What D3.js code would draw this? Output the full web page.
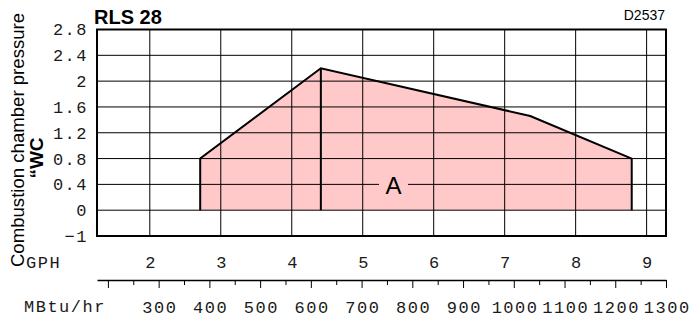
<!DOCTYPE html>
<html>
<head>
<meta charset="utf-8">
<script src="https://cdn.jsdelivr.net/npm/d3@7"></script>
<style>
  body { margin: 0; background: #fff; }
  svg { display: block; }
  .mono { font-family: "Liberation Mono", monospace; font-size: 17px; letter-spacing: 1.5px; fill: #1a1a1a; }
</style>
</head>
<body>
<svg width="691" height="322"></svg>
<script>
// working range of the burner (GPH vs combustion chamber pressure "WC)
const rangeGph = [2.71, 2.71, 4.41, 7.36, 8.79, 8.79];
const rangeWc  = [0, 0.8, 2.2, 1.46, 0.8, 0];
const splitGph = 4.41;

const gphTicks = [2, 3, 4, 5, 6, 7, 8, 9];
const yTicks = [-0.4, 0, 0.4, 0.8, 1.2, 1.6, 2, 2.4, 2.8];
const yLabels = ["\u22121", "0", "0.4", "0.8", "1.2", "1.6", "2", "2.4", "2.8"];
const mbtuTicks = [200, 300, 400, 500, 600, 700, 800, 900, 1000, 1100, 1200, 1300];
const mbtuMinor = [250, 350, 450, 550, 650, 750, 850, 950, 1050, 1150, 1250];

const svg = d3.select('svg');
const plotL = 97, plotR = 666, plotT = 29.5, plotB = 236;

const x = d3.scaleLinear().domain([1.256, 9.273]).range([plotL, plotR]);
const xm = d3.scaleLinear().domain([178.5, 1300]).range([plotL, plotR]);
const y = d3.scaleLinear().domain([-0.4, 2.8]).range([plotB, plotT]);

const pts = rangeGph.map((g, i) => [x(g), y(rangeWc[i])]);

// pink area
svg.append('path')
  .attr('d', d3.line()(pts) + 'Z')
  .attr('fill', '#ffc9c9');

// grid
svg.append('g')
  .selectAll('line')
  .data(gphTicks)
  .join('line')
  .attr('x1', d => x(d)).attr('x2', d => x(d))
  .attr('y1', plotT).attr('y2', plotB)
  .attr('stroke', '#000').attr('stroke-width', 1);

svg.append('g')
  .selectAll('line')
  .data(yTicks.slice(1, -1))
  .join('line')
  .attr('x1', plotL).attr('x2', plotR)
  .attr('y1', d => y(d)).attr('y2', d => y(d))
  .attr('stroke', '#000').attr('stroke-width', 1);

// frame
svg.append('rect')
  .attr('x', plotL).attr('y', plotT)
  .attr('width', plotR - plotL).attr('height', plotB - plotT)
  .attr('fill', 'none').attr('stroke', '#000').attr('stroke-width', 2);

// outline of the range + divider
svg.append('path')
  .attr('d', d3.line()(pts))
  .attr('fill', 'none').attr('stroke', '#000').attr('stroke-width', 2)
  .attr('stroke-linejoin', 'miter');

svg.append('line')
  .attr('x1', x(splitGph)).attr('x2', x(splitGph))
  .attr('y1', y(0)).attr('y2', y(2.2))
  .attr('stroke', '#000').attr('stroke-width', 2);

// label A with a pink gap in the gridline
svg.append('rect')
  .attr('x', 379).attr('y', y(0.4) - 3)
  .attr('width', 29).attr('height', 6)
  .attr('fill', '#ffc9c9');
svg.append('text')
  .attr('x', 393.5).attr('y', y(0.4) + 9.5)
  .attr('text-anchor', 'middle')
  .style('font-family', 'Liberation Sans, Arial, sans-serif')
  .style('font-size', '24px')
  .text('A');

// y tick labels
const yAxis = svg.append('g')
  .attr('transform', `translate(${plotL},0)`)
  .call(d3.axisLeft(y).tickValues(yTicks)
    .tickFormat((d, i) => yLabels[i]).tickSize(0).tickPadding(9));
yAxis.select('.domain').remove();
yAxis.attr('font-family', null).attr('font-size', null);
yAxis.selectAll('text').attr('class', 'mono');

// GPH labels
const gAxis = svg.append('g')
  .attr('transform', 'translate(0,262)')
  .call(d3.axisBottom(x).tickValues(gphTicks).tickFormat(d3.format('d')).tickSize(0).tickPadding(0));
gAxis.select('.domain').remove();
gAxis.attr('font-family', null).attr('font-size', null);
gAxis.selectAll('text').attr('class', 'mono').attr('dy', '0.35em').attr('dx', '0.75px');

svg.append('text').attr('class', 'mono')
  .attr('x', 26).attr('y', 262).attr('dy', '0.35em').text('GPH');

// MBtu/hr axis
const mAxis = svg.append('g')
  .attr('transform', 'translate(0,280)')
  .call(d3.axisBottom(xm).tickValues(mbtuTicks)
    .tickFormat(d => d >= 300 ? d : '').tickSize(8).tickSizeOuter(0).tickPadding(13));
mAxis.select('.domain').attr('stroke-width', 1.5);
mAxis.attr('font-family', null).attr('font-size', null);
mAxis.selectAll('text').attr('class', 'mono').attr('dx', '0.75px');

svg.append('g')
  .attr('transform', 'translate(0,280)')
  .call(d3.axisBottom(xm).tickValues(mbtuMinor).tickFormat('').tickSize(5))
  .select('.domain').remove();

svg.append('text').attr('class', 'mono')
  .attr('x', 24).attr('y', 306.5).attr('dy', '0.35em').text('MBtu/hr');

// titles
svg.append('text')
  .attr('x', 94).attr('y', 24)
  .style('font-family', 'Liberation Sans, Arial, sans-serif')
  .style('font-size', '20px').style('font-weight', 'bold')
  .text('RLS 28');

svg.append('text')
  .attr('x', 665).attr('y', 20)
  .attr('text-anchor', 'end')
  .style('font-family', 'Liberation Sans, Arial, sans-serif')
  .style('font-size', '14px')
  .text('D2537');

svg.append('text')
  .attr('transform', 'translate(24,140) rotate(-90)')
  .attr('text-anchor', 'middle')
  .style('font-family', 'Liberation Sans, Arial, sans-serif')
  .style('font-size', '18.6px')
  .text('Combustion chamber pressure');

svg.append('text')
  .attr('transform', 'translate(43,158) rotate(-90)')
  .attr('text-anchor', 'middle')
  .style('font-family', 'Liberation Sans, Arial, sans-serif')
  .style('font-size', '19px').style('font-weight', 'bold')
  .text('\u201cWC');
</script>
</body>
</html>
